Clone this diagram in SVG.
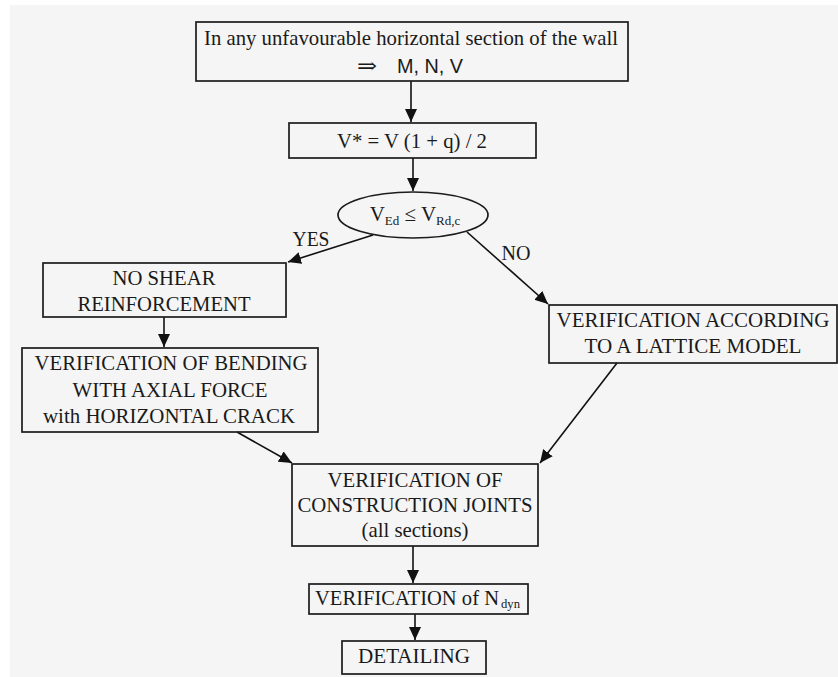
<svg xmlns="http://www.w3.org/2000/svg" width="838" height="677" viewBox="0 0 838 677">
<style>
.box{fill:none;stroke:#1c1c1c;stroke-width:1.7}
.t{font-family:"Liberation Serif","Times New Roman",serif;font-size:21px;fill:#1a1a1a;text-anchor:middle}
.s{font-family:"Liberation Sans",Arial,sans-serif;font-size:20px;fill:#1a1a1a}
.sub{font-size:13px}
.c{fill:none;stroke:#111;stroke-width:1.6;marker-end:url(#ah)}
</style>
<defs>
<marker id="ah" markerUnits="userSpaceOnUse" markerWidth="14" markerHeight="12" refX="13" refY="6" orient="auto">
<path d="M0,0 L13,6 L0,12 z" fill="#111"/>
</marker>
</defs>
<rect x="0" y="0" width="838" height="677" fill="#ffffff"/>
<rect x="10" y="5" width="828" height="672" fill="#f5f5f5"/>

<g id="connectors">
<line class="c" x1="411" y1="81" x2="411" y2="122"/>
<line class="c" x1="413" y1="158" x2="413" y2="191"/>
<line class="c" x1="373" y1="235" x2="288" y2="262"/>
<line class="c" x1="467" y1="232" x2="548" y2="304"/>
<line class="c" x1="164" y1="317" x2="164" y2="347"/>
<line class="c" x1="237" y1="432" x2="292" y2="463"/>
<line class="c" x1="617" y1="363" x2="540" y2="463"/>
<line class="c" x1="413" y1="546" x2="413" y2="583"/>
<line class="c" x1="415" y1="614" x2="415" y2="640"/>
<text class="t" x="311" y="246" textLength="37" lengthAdjust="spacingAndGlyphs">YES</text>
<text class="t" x="516" y="260" textLength="29" lengthAdjust="spacingAndGlyphs">NO</text>
</g>

<g id="n-start">
<rect class="box" x="196" y="22" width="432" height="59"/>
<text class="t" x="411" y="45" textLength="414" lengthAdjust="spacingAndGlyphs">In any unfavourable horizontal section of the wall</text>
<text x="357" y="73" textLength="20" lengthAdjust="spacingAndGlyphs" style="font-family:'DejaVu Serif','Liberation Serif',serif;font-size:21px;fill:#1a1a1a">⇒</text>
<text class="s" x="397" y="73" textLength="66" lengthAdjust="spacingAndGlyphs">M, N, V</text>
</g>

<g id="n-vstar">
<rect class="box" x="289" y="123" width="247" height="35"/>
<text class="t" x="412" y="148" textLength="150" lengthAdjust="spacingAndGlyphs">V* = V (1 + q) / 2</text>
</g>

<g id="n-check">
<ellipse class="box" cx="413" cy="215" rx="75" ry="23"/>
<text class="t" x="415" y="221">V<tspan class="sub" dy="4">Ed</tspan><tspan dy="-4"> ≤ V</tspan><tspan class="sub" dy="4">Rd,c</tspan></text>
</g>

<g id="n-noshear">
<rect class="box" x="43" y="263" width="243" height="54"/>
<text class="t" x="164" y="285" textLength="103" lengthAdjust="spacingAndGlyphs">NO SHEAR</text>
<text class="t" x="164" y="311" textLength="173" lengthAdjust="spacingAndGlyphs">REINFORCEMENT</text>
</g>

<g id="n-bending">
<rect class="box" x="22" y="348" width="296" height="84"/>
<text class="t" x="171" y="370" textLength="273" lengthAdjust="spacingAndGlyphs">VERIFICATION OF BENDING</text>
<text class="t" x="170" y="397" textLength="195" lengthAdjust="spacingAndGlyphs">WITH AXIAL FORCE</text>
<text class="t" x="169" y="423" textLength="252" lengthAdjust="spacingAndGlyphs">with HORIZONTAL CRACK</text>
</g>

<g id="n-lattice">
<rect class="box" x="549" y="305" width="288" height="58"/>
<text class="t" x="693" y="327" textLength="273" lengthAdjust="spacingAndGlyphs">VERIFICATION ACCORDING</text>
<text class="t" x="693" y="353" textLength="217" lengthAdjust="spacingAndGlyphs">TO A LATTICE MODEL</text>
</g>

<g id="n-joints">
<rect class="box" x="292" y="464" width="246" height="82"/>
<text class="t" x="415" y="487" textLength="175" lengthAdjust="spacingAndGlyphs">VERIFICATION OF</text>
<text class="t" x="415" y="512" textLength="235" lengthAdjust="spacingAndGlyphs">CONSTRUCTION JOINTS</text>
<text class="t" x="415" y="537" textLength="107" lengthAdjust="spacingAndGlyphs">(all sections)</text>
</g>

<g id="n-ndyn">
<rect class="box" x="309" y="584" width="219" height="30"/>
<text class="t" x="315" y="605" style="text-anchor:start" textLength="184" lengthAdjust="spacingAndGlyphs">VERIFICATION of N</text>
<text class="t sub" x="501" y="608" style="text-anchor:start" textLength="19" lengthAdjust="spacingAndGlyphs">dyn</text>
</g>

<g id="n-detailing">
<rect class="box" x="342" y="641" width="144" height="33"/>
<text class="t" x="414" y="663" textLength="112" lengthAdjust="spacingAndGlyphs">DETAILING</text>
</g>
</svg>
